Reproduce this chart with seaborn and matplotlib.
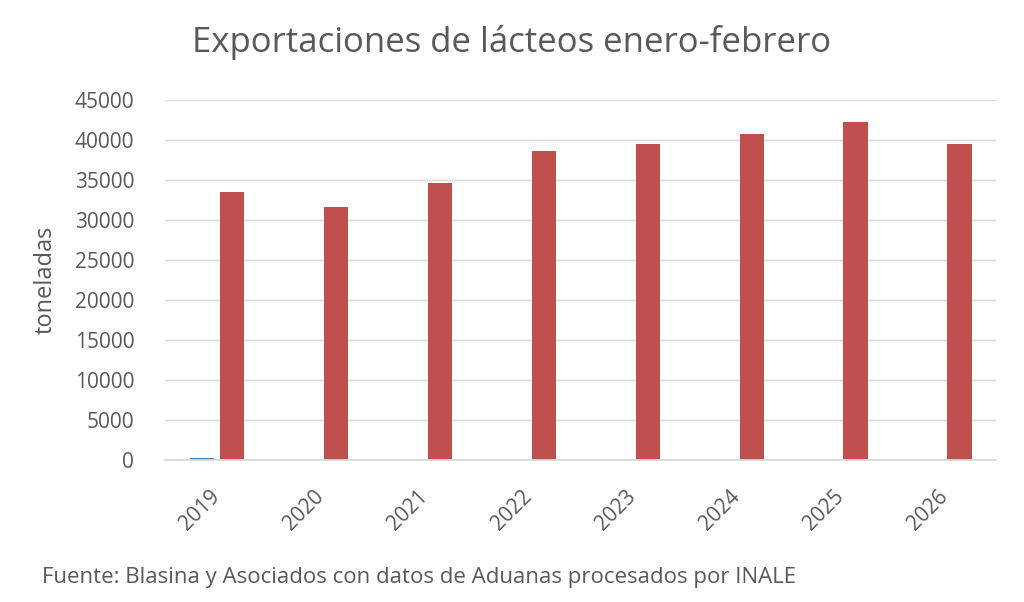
import matplotlib
matplotlib.use("Agg")
import matplotlib.pyplot as plt
import seaborn as sns
import pandas as pd

# Data (toneladas, enero-febrero)
years = ['2019', '2020', '2021', '2022', '2023', '2024', '2025', '2026']
serie_a = [250, 0, 0, 0, 0, 0, 0, 0]
serie_b = [33550, 31600, 34600, 38650, 39500, 40800, 42300, 39500]

df = pd.DataFrame({
    'Año': years * 2,
    'Serie': ['a'] * len(years) + ['b'] * len(years),
    'Toneladas': serie_a + serie_b,
})

sns.set_theme(style='white')
plt.rcParams['font.family'] = ['Open Sans', 'DejaVu Sans']

fig = plt.figure(figsize=(10.24, 6.02), dpi=100)
ax = fig.add_axes([0.161, 0.236, 0.812, 0.598])

sns.barplot(data=df, x='Año', y='Toneladas', hue='Serie',
            palette={'a': '#4F81BD', 'b': '#C0504D'},
            width=0.58, gap=0.2, saturation=1, legend=False,
            linewidth=0, ax=ax)

ax.set_ylim(0, 45000)
ax.set_yticks(range(0, 45001, 5000))
ax.set_xlim(-0.5, len(years) - 0.5)
ax.yaxis.grid(True, color='#d9d9d9', linewidth=1)
ax.set_axisbelow(True)
for s in ['top', 'right', 'left']:
    ax.spines[s].set_visible(False)
ax.spines['bottom'].set_color('#d9d9d9')
ax.tick_params(axis='y', length=0, labelsize=15, colors='#595959', pad=22)
ax.tick_params(axis='x', length=0, labelsize=15, colors='#595959', pad=24)
plt.setp(ax.get_xticklabels(), rotation=45, ha='right', va='center',
         rotation_mode='anchor')

ax.set_xlabel('')
ax.set_ylabel('toneladas', fontsize=17, color='#595959', labelpad=12)

fig.text(0.5, 0.93, 'Exportaciones de lácteos enero-febrero', ha='center', va='center',
         fontsize=25, color='#595959')
fig.text(0.041, 0.04, 'Fuente: Blasina y Asociados con datos de Aduanas procesados por INALE',
         ha='left', va='center', fontsize=16, color='#595959')

fig.savefig('out.png', dpi=100)
